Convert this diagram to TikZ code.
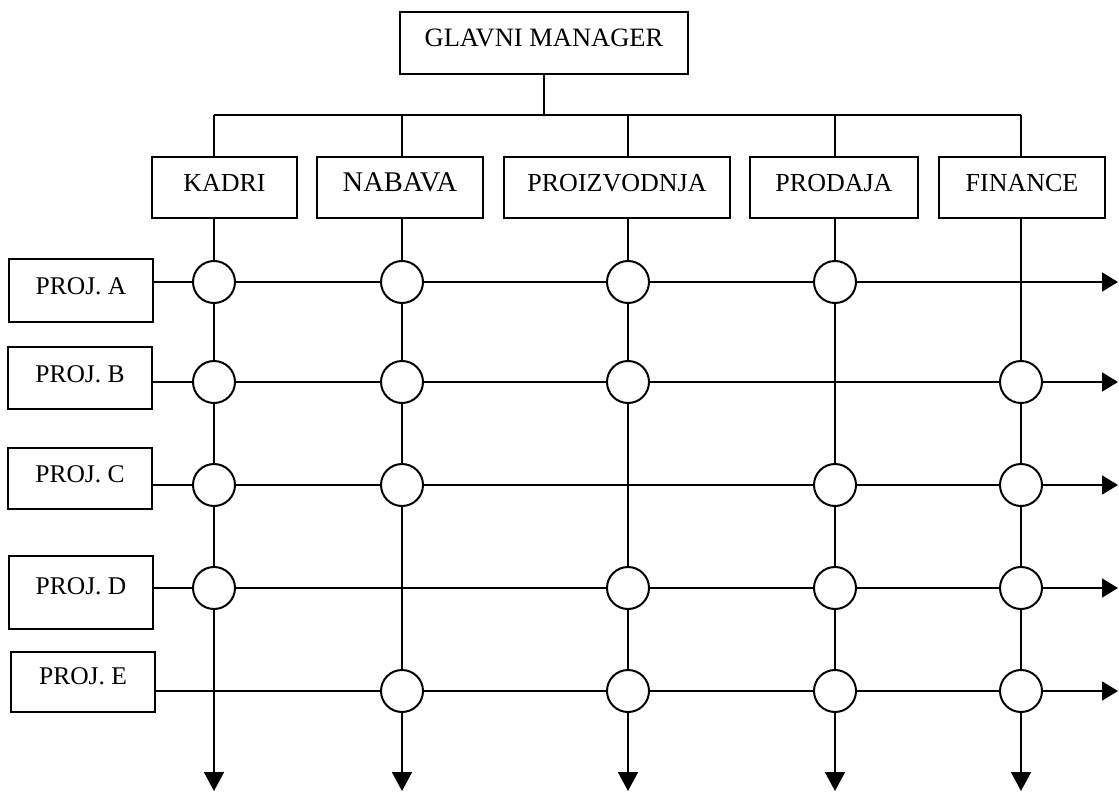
\documentclass[tikz,border=0pt]{standalone}
\usepackage{fontspec}
\setmainfont{Liberation Serif}
\usetikzlibrary{arrows.meta}
\begin{document}
\begin{tikzpicture}[x=1pt,y=-1pt,
  line width=1.8pt,
  box/.style={draw, rectangle, inner sep=0pt, text height=17pt, text depth=9pt,
              font=\fontsize{26}{30}\selectfont},
  dept/.style={box, minimum height=61pt},
  proj/.style={box, minimum width=144pt, font=\fontsize{25.5}{30}\selectfont},
  link/.style={draw, circle, fill=white, minimum size=42pt, inner sep=0pt, line width=2pt},
  flowh/.style={-{Triangle[length=16pt,width=19pt]}},
  flowv/.style={-{Triangle[length=19pt,width=20pt]}}]
\useasboundingbox (0,0) rectangle (1119,792);

% top management
\node[box, minimum width=288pt, minimum height=62pt,
      font=\fontsize{26.5}{30}\selectfont] (gm) at (544,43) {GLAVNI MANAGER};

% departments
\node[dept, minimum width=145pt] (kadri)   at (224.5,187.5) {KADRI};
\node[dept, minimum width=166pt, font=\fontsize{28.5}{32}\selectfont] (nabava) at (400,187.5) {NABAVA};
\node[dept, minimum width=226pt] (proiz)   at (617,187.5)   {PROIZVODNJA};
\node[dept, minimum width=168pt] (prodaja) at (834,187.5)   {PRODAJA};
\node[dept, minimum width=166pt] (finance) at (1022,187.5)  {FINANCE};

% projects
\node[proj, minimum height=63pt] (pa) at (81,290.5)   {PROJ. A};
\node[proj, minimum height=62pt] (pb) at (80,378)     {PROJ. B};
\node[proj, minimum height=61pt] (pc) at (80,478.5)   {PROJ. C};
\node[proj, minimum height=73pt, text depth=14pt] (pd) at (81,592.5) {PROJ. D};
\node[proj, minimum height=60pt, text depth=12pt] (pe) at (83,682) {PROJ. E};

% column and row reference points
\coordinate (bus) at (544,115);
\foreach \c/\x in {k/214, n/402, p/628, s/835, f/1021}{
  \coordinate (top-\c) at (\x,115);
  \coordinate (end-\c) at (\x,791);
}
\foreach \r/\y in {a/282, b/382, c/485, d/588, e/691}{
  \coordinate (row-\r) at (0,\y);
  \coordinate (out-\r) at (1118,\y);
}

% hierarchy lines
\draw (gm.south) -- (bus);
\draw (top-k) -- (top-f);
\draw (top-k) -- (top-k |- kadri.north);
\draw (top-n) -- (top-n |- nabava.north);
\draw (top-p) -- (top-p |- proiz.north);
\draw (top-s) -- (top-s |- prodaja.north);
\draw (top-f) -- (top-f |- finance.north);

% department flows downwards
\draw[flowv] (top-k |- kadri.south)   -- (end-k);
\draw[flowv] (top-n |- nabava.south)  -- (end-n);
\draw[flowv] (top-p |- proiz.south)   -- (end-p);
\draw[flowv] (top-s |- prodaja.south) -- (end-s);
\draw[flowv] (top-f |- finance.south) -- (end-f);

% project flows to the right
\draw[flowh] (pa.east |- row-a) -- (out-a);
\draw[flowh] (pb.east |- row-b) -- (out-b);
\draw[flowh] (pc.east |- row-c) -- (out-c);
\draw[flowh] (pd.east |- row-d) -- (out-d);
\draw[flowh] (pe.east |- row-e) -- (out-e);

% participation nodes
\foreach \r/\cols in {a/{k,n,p,s}, b/{k,n,p,f}, c/{k,n,s,f}, d/{k,p,s,f}, e/{n,p,s,f}}{
  \foreach \c in \cols{
    \node[link] (x-\r-\c) at (top-\c |- row-\r) {};
  }
}
\end{tikzpicture}
\end{document}
